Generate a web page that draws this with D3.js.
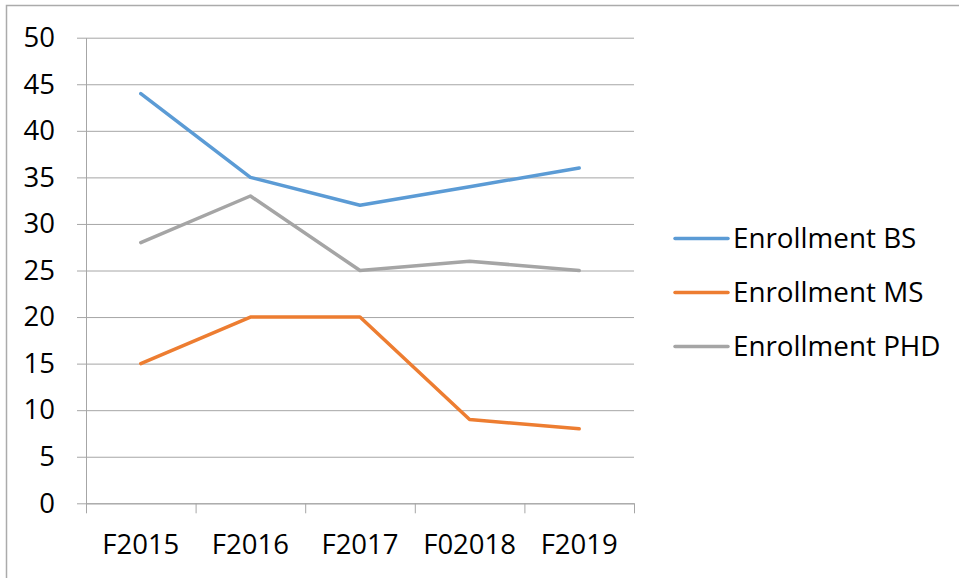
<!DOCTYPE html>
<html>
<head>
<meta charset="utf-8">
<script src="https://cdnjs.cloudflare.com/ajax/libs/d3/7.8.5/d3.min.js"></script>
<style>
  body { margin: 0; background: #fff; }
  svg text { font-family: "Open Sans", sans-serif; fill: #000; }
</style>
</head>
<body>
<div id="chart"></div>
<script>
(function() {
    'use strict';

    // data
    const categories = ["F2015", "F2016", "F2017", "F02018", "F2019"];
    const enrollBS = [44, 35, 32, 34, 36];
    const enrollMS = [15, 20, 20, 9, 8];
    const enrollPHD = [28, 33, 25, 26, 25];
    const seriesNames = ["Enrollment BS", "Enrollment MS", "Enrollment PHD"];
    const seriesColors = ["#5B9BD5", "#ED7D31", "#A5A5A5"];
    const yTicks = [0, 5, 10, 15, 20, 25, 30, 35, 40, 45, 50];

    const series = [enrollBS, enrollMS, enrollPHD].map((vals, i) => ({
        name: seriesNames[i], color: seriesColors[i], values: vals
    }));

    const width = 959;
    const height = 578;
    const plot = { left: 86, right: 634, top: 37.7, bottom: 503.3 };

    const svg = d3.select("#chart")
        .append("svg")
        .attr("width", width)
        .attr("height", height);

    // outer chart border (cropped at right and bottom)
    svg.append("path")
        .attr("d", `M6.5,${height + 2} V5.5 H${width + 2}`)
        .attr("fill", "none")
        .attr("stroke", "#ababab")
        .attr("stroke-width", 1.5);

    const x = d3.scaleBand()
        .domain(categories)
        .range([plot.left, plot.right])
        .padding(0);

    const y = d3.scaleLinear()
        .domain([0, 50])
        .range([plot.bottom, plot.top]);

    // horizontal gridlines
    const grid = svg.append("g")
        .attr("transform", `translate(${plot.left},0)`)
        .call(d3.axisLeft(y).tickValues(yTicks)
            .tickSizeInner(-(plot.right - plot.left))
            .tickSizeOuter(0)
            .tickFormat(""));
    grid.select(".domain").remove();
    grid.selectAll("line").attr("stroke", "#a6a6a6").attr("stroke-width", 1);

    // y axis with small outward ticks
    const yAxis = svg.append("g")
        .attr("transform", `translate(${plot.left},0)`)
        .call(d3.axisLeft(y).tickValues(yTicks)
            .tickSizeInner(9)
            .tickSizeOuter(0)
            .tickPadding(22));
    yAxis.select(".domain").attr("stroke", "#a6a6a6");
    yAxis.selectAll("line").attr("stroke", "#a6a6a6");
    yAxis.selectAll("text")
        .attr("font-size", "27.5px")
        .attr("font-family", "Open Sans, sans-serif");

    // x axis: ticks at category boundaries
    const xEdges = d3.scaleLinear()
        .domain([0, categories.length])
        .range([plot.left, plot.right]);
    const xAxis = svg.append("g")
        .attr("transform", `translate(0,${plot.bottom})`)
        .call(d3.axisBottom(xEdges).tickValues(d3.range(categories.length + 1))
            .tickSizeInner(10)
            .tickSizeOuter(0)
            .tickFormat(""));
    xAxis.select(".domain").attr("stroke", "#a6a6a6");
    xAxis.selectAll("line").attr("stroke", "#a6a6a6");

    svg.append("g")
        .selectAll("text")
        .data(categories)
        .enter()
        .append("text")
        .attr("x", d => x(d) + x.bandwidth() / 2)
        .attr("y", 554)
        .attr("text-anchor", "middle")
        .attr("font-size", "27.5px")
        .text(d => d);

    const line = d3.line()
        .x((d, i) => x(categories[i]) + x.bandwidth() / 2)
        .y(d => y(d));

    svg.append("g")
        .selectAll("path")
        .data(series)
        .enter()
        .append("path")
        .attr("d", d => line(d.values))
        .attr("fill", "none")
        .attr("stroke", d => d.color)
        .attr("stroke-width", 3.5)
        .attr("stroke-linejoin", "round")
        .attr("stroke-linecap", "round");

    // legend
    const legend = svg.append("g")
        .selectAll("g")
        .data(series)
        .enter()
        .append("g")
        .attr("transform", (d, i) => `translate(675,${238.5 + i * 54})`);

    legend.append("line")
        .attr("x1", 0).attr("x2", 53)
        .attr("stroke", d => d.color)
        .attr("stroke-width", 3.5)
        .attr("stroke-linecap", "round");

    legend.append("text")
        .attr("x", 58)
        .attr("y", 0)
        .attr("dy", "0.35em")
        .attr("font-size", "27.8px")
        .text(d => d.name);
})();
</script>
</body>
</html>
